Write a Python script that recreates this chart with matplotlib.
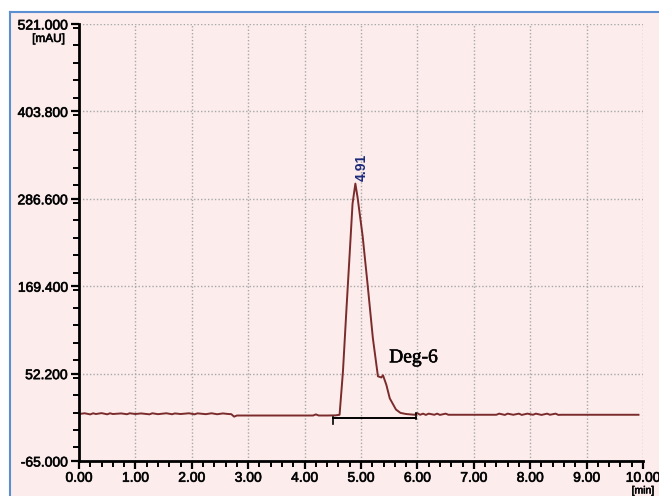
import numpy as np
import matplotlib.pyplot as plt
import matplotlib.patheffects as pe
from matplotlib.ticker import MultipleLocator, FixedLocator
from matplotlib.lines import Line2D
from matplotlib.patches import Rectangle

# chromatogram trace (min, mAU)
time_min = [0.00, 0.10, 0.20, 0.25, 0.30, 0.40, 0.50, 0.55, 0.60, 0.75, 0.85, 0.90,
            1.00, 1.10, 1.25, 1.30, 1.40, 1.55, 1.65, 1.70, 1.80, 1.95, 2.05, 2.10,
            2.25, 2.35, 2.45, 2.55, 2.65, 2.70, 2.75, 2.80, 3.00, 3.50, 4.00, 4.15,
            4.20, 4.25, 4.40, 4.55, 4.62, 4.68, 4.74, 4.80, 4.85, 4.90, 4.94, 5.03,
            5.12, 5.21, 5.30, 5.36, 5.39, 5.45, 5.51, 5.62, 5.70, 5.80, 5.95, 6.00,
            6.05, 6.10, 6.15, 6.20, 6.30, 6.35, 6.40, 6.50, 6.55, 6.60, 7.00, 7.40,
            7.45, 7.55, 7.60, 7.70, 7.80, 7.85, 7.95, 8.05, 8.10, 8.20, 8.30, 8.35,
            8.45, 8.50, 8.55, 9.00, 9.50, 9.92]
signal_mau = [-2.0, -1.0, -2.5, -1.0, -2.0, -0.8, -2.4, -1.0, -2.0, -1.2, -2.3, -1.0,
              -2.0, -1.2, -2.4, -1.0, -2.2, -1.0, -2.3, -1.2, -2.0, -1.0, -2.4, -1.1,
              -2.2, -1.0, -2.3, -1.2, -2.0, -2.2, -5.5, -4.0, -4.0, -4.0, -4.0, -4.0,
              -2.5, -4.0, -4.0, -3.8, -3.0, 55.0, 136.0, 214.0, 280.0, 307.0, 288.0, 236.0,
              169.4, 100.0, 48.6, 47.0, 50.0, 37.0, 19.0, 4.0, -0.5, -2.0, -3.0, -1.0,
              -3.0, -1.5, -3.2, -1.5, -3.0, -1.5, -3.2, -1.5, -3.0, -3.0, -3.0, -3.0,
              -1.5, -3.2, -1.5, -3.0, -1.5, -3.2, -1.5, -3.0, -1.5, -3.2, -1.5, -3.0,
              -1.5, -3.2, -3.0, -3.0, -3.0, -3.0]

# integration baseline under the peak
baseline_t = [4.50, 5.97]
baseline_y = [-8.0, -8.0]

y_ticks = [-65.0, 52.2, 169.4, 286.6, 403.8, 521.0]
x_ticks = [0, 1, 2, 3, 4, 5, 6, 7, 8, 9, 10]
peak_label = "4.91"
peak_t = 4.91
peak_y = 307.0

bg = "#fcecec"
trace_col = "#7b2b2b"
heavy = [pe.withStroke(linewidth=0.5, foreground="#1a1a1a")]

fig = plt.figure(figsize=(6.59, 4.96), dpi=100)
fig.patch.set_facecolor(bg)
# white strip on top/left and blue frame
fig.add_artist(Rectangle((0, 1 - 12 / 496), 1, 12 / 496, transform=fig.transFigure,
                         facecolor="white", edgecolor="none"))
fig.add_artist(Rectangle((0, 0), 10 / 659, 1, transform=fig.transFigure,
                         facecolor="white", edgecolor="none"))
fig.add_artist(Line2D([10 / 659, 1], [1 - 12 / 496] * 2, transform=fig.transFigure,
                      color="#5b8fd2", lw=1.5))
fig.add_artist(Line2D([10 / 659] * 2, [0, 1 - 12 / 496], transform=fig.transFigure,
                      color="#5b8fd2", lw=1.5))

ax = fig.add_axes([79 / 659, 35 / 496, 564 / 659, 437 / 496])
ax.set_facecolor(bg)
ax.set_xlim(0, 10)
ax.set_ylim(-65, 521)

ax.plot(time_min, signal_mau, color=trace_col, lw=1.4)
ax.plot(baseline_t, baseline_y, color="black", lw=1.4)
ax.plot([baseline_t[0]] * 2, [baseline_y[0] - 8, baseline_y[0] + 2], color="black", lw=1.2)
ax.plot([baseline_t[1]] * 2, [baseline_y[1] - 1, baseline_y[1] + 8], color="black", lw=1.2)

ax.text(peak_t + 0.11, peak_y + 4, peak_label, rotation=90, ha="center", va="bottom",
        color="#1c2a7a", fontsize=10, fontweight="bold", family="Liberation Sans")
ax.text(5.5, 62, "Deg-6", ha="left", va="bottom", fontsize=14,
        family="Liberation Serif", color="black",
        path_effects=[pe.withStroke(linewidth=0.4, foreground="black")])

for s in ["top", "right"]:
    ax.spines[s].set_visible(False)
for s in ["left", "bottom"]:
    ax.spines[s].set_linewidth(2)

ax.xaxis.set_major_locator(FixedLocator(x_ticks))
ax.xaxis.set_minor_locator(MultipleLocator(0.2))
ax.yaxis.set_major_locator(FixedLocator(y_ticks))
ax.yaxis.set_minor_locator(MultipleLocator(117.2 / 5))
ax.set_xticklabels([f"{v:.2f}" for v in x_ticks])
ax.set_yticklabels([f"{v:.3f}" for v in y_ticks])

ax.tick_params(which="major", length=6, width=1.6, labelsize=10)
ax.tick_params(axis="x", which="major", pad=1)
ax.tick_params(axis="y", which="major", pad=2)
ax.tick_params(which="minor", length=4, width=1.4)
for lab in ax.get_xticklabels() + ax.get_yticklabels():
    lab.set_family("Liberation Sans")
    lab.set_path_effects(heavy)

ax.grid(True, which="major", color="#a8a8a8", linestyle=(0, (1, 1.5)), lw=1)
ax.set_axisbelow(True)

ax.text(-0.025, 521 - 12, "[mAU]", ha="right", va="top", fontsize=8.5,
        family="Liberation Sans", transform=ax.get_yaxis_transform(), path_effects=heavy)
ax.text(10.0, -0.056, "[min]", ha="center", va="top", fontsize=7.5,
        family="Liberation Sans", transform=ax.get_xaxis_transform(), path_effects=heavy)

fig.savefig("out.png", dpi=100, facecolor=bg)
